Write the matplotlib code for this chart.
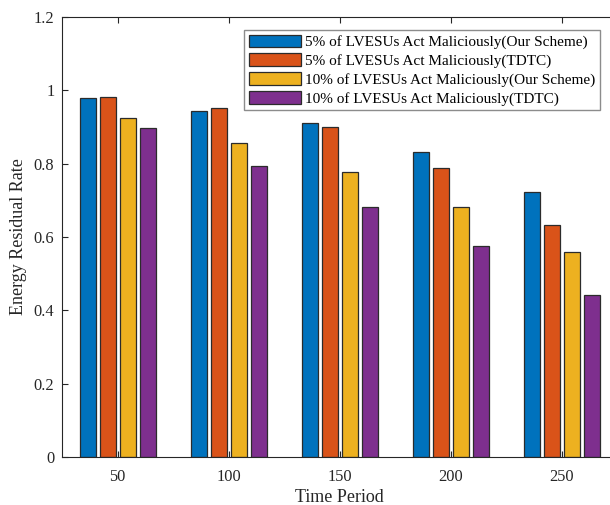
import numpy as np
import matplotlib
matplotlib.use('Agg')
import matplotlib.pyplot as plt
from matplotlib.ticker import FuncFormatter

plt.rcParams['font.family'] = ['Liberation Serif', 'DejaVu Serif']

# data
periods = [50, 100, 150, 200, 250]
ours_5 = [0.978, 0.944, 0.912, 0.833, 0.722]
tdtc_5 = [0.982, 0.951, 0.900, 0.789, 0.633]
ours_10 = [0.925, 0.857, 0.776, 0.683, 0.558]
tdtc_10 = [0.896, 0.794, 0.683, 0.576, 0.441]
labels = ['5% of LVESUs Act Maliciously(Our Scheme)',
          '5% of LVESUs Act Maliciously(TDTC)',
          '10% of LVESUs Act Maliciously(Our Scheme)',
          '10% of LVESUs Act Maliciously(TDTC)']
colors = ['#0072BD', '#D95319', '#EDB120', '#7E2F8E']

series = [ours_5, tdtc_5, ours_10, tdtc_10]

fig = plt.figure(figsize=(6.10, 5.05), dpi=100)
# axes runs slightly past the right edge, as in the reference crop
ax = fig.add_axes([62 / 610, 48 / 505, 555.5 / 610, 440 / 505])

x = np.array(periods, dtype=float)
pitch = 9.0
width = 7.2
for i, (vals, lab, col) in enumerate(zip(series, labels, colors)):
    ax.bar(x + (i - 1.5) * pitch, vals, width=width, color=col,
           edgecolor='#2b2b2b', linewidth=0.9, label=lab, zorder=2)

ax.set_xlim(25, 275)
ax.set_ylim(0, 1.2)
ax.set_xticks(periods)
ax.set_yticks(np.arange(0, 1.21, 0.2))
ax.yaxis.set_major_formatter(FuncFormatter(lambda v, p: ('%g' % round(v, 2))))
ax.tick_params(direction='in', top=True, right=True, labelsize=11.8,
               colors='#262626', length=4, width=0.8)
ax.tick_params(axis='x', pad=8.5)
ax.tick_params(axis='y', pad=5.5)
for s in ax.spines.values():
    s.set_color('#262626')
    s.set_linewidth(0.8)

ax.set_xlabel('Time Period', fontsize=13, color='#262626', labelpad=3)
ax.set_ylabel('Energy Residual Rate', fontsize=13, color='#262626', labelpad=5)

leg = ax.legend(loc='upper left', bbox_to_anchor=(244 / 610, 1 - 30 / 505),
                bbox_transform=fig.transFigure, fontsize=11, fancybox=False,
                framealpha=1, edgecolor='#8c8c8c', borderpad=0.3,
                handlelength=3.4, handleheight=0.9, handletextpad=0.3,
                labelspacing=0.26, borderaxespad=0)
leg.get_frame().set_linewidth(1.0)

fig.savefig('out.png', dpi=100)
